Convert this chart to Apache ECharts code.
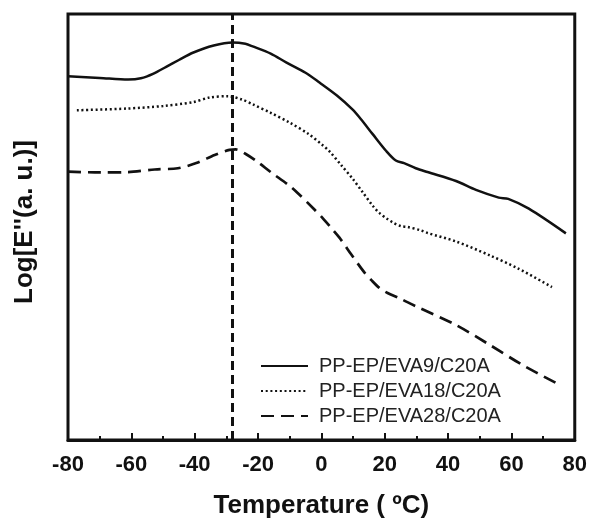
<!DOCTYPE html>
<html>
<head>
<meta charset="utf-8">
<script src="https://cdn.jsdelivr.net/npm/echarts@6/dist/echarts.min.js"></script>
<style>
  html, body { margin: 0; padding: 0; background: #fff; }
  #chart { width: 590px; height: 524px; }
</style>
</head>
<body>
<div id="chart"></div>
<script>
// temperatures (ºC) and log E'' (arbitrary units)
var names = ['PP-EP/EVA9/C20A', 'PP-EP/EVA18/C20A', 'PP-EP/EVA28/C20A'];

var eva9T = [-80, -70, -61, -57, -53, -49, -45, -40.6, -34, -28, -24, -21.7, -16, -11, -5, -0.6, 5, 9.8, 12.5, 16.2, 20.4, 23.5, 26.1, 29.8, 33.5, 42.5, 48.8, 56, 59, 65.5, 77.2];
var eva9V = [85.4, 85.0, 84.6, 84.9, 86.0, 87.6, 89.2, 90.9, 92.6, 93.3, 93.0, 92.4, 90.7, 88.6, 86.2, 83.9, 80.8, 77.6, 75.3, 71.8, 67.9, 65.6, 65.0, 63.8, 62.9, 60.8, 58.7, 56.9, 56.6, 54.3, 48.5];

var eva18T = [-77.2, -61.4, -50, -40.6, -35.3, -29.6, -25, -21.7, -16, -10, -4, 0.4, 2.5, 6.4, 9.9, 13, 16.4, 18.3, 20.6, 22.7, 25.1, 27.2, 31.4, 33.5, 42.5, 53, 62, 72.8];
var eva18V = [77.4, 77.8, 78.4, 79.3, 80.4, 80.7, 79.9, 78.8, 76.8, 74.5, 71.8, 69.2, 67.8, 64.4, 61.3, 58.2, 54.8, 53.3, 52.0, 51.0, 50.2, 50.0, 49.2, 48.6, 46.6, 43.4, 40.3, 35.9];

var eva28T = [-80, -70, -61, -52.6, -45.3, -39.5, -33.7, -29, -27, -24, -20, -16, -10.1, -7.5, -2.2, 0.4, 3.1, 5.7, 9.4, 13.5, 15.7, 18.3, 20.9, 24.6, 29.8, 42.5, 53, 63.3, 74.3];
var eva28V = [63.0, 62.8, 62.9, 63.5, 63.8, 65.0, 66.9, 68.1, 68.2, 67.2, 65.2, 62.9, 59.7, 58.0, 54.1, 52.1, 49.8, 47.5, 43.6, 39.4, 37.6, 35.7, 34.5, 33.3, 31.4, 27.0, 22.4, 17.7, 13.3];

var tgLine = -28;  // vertical dashed marker

function pairs(xs, ys) {
    return xs.map(function (x, i) { return [x, ys[i]]; });
}

var ink = '#111';
var chart = echarts.init(document.getElementById('chart'));

chart.setOption({
    animation: false,
    backgroundColor: '#fff',
    grid: {
        left: 68, right: 14, top: 14, bottom: 81,
        show: true, borderColor: ink, borderWidth: 3
    },
    legend: {
        orient: 'vertical',
        left: 260, top: 356, padding: 0,
        itemWidth: 47, itemHeight: 12, itemGap: 5,
        itemStyle: { color: 'transparent', borderWidth: 0 },
        textStyle: { fontFamily: 'Liberation Sans', fontSize: 20, color: '#222', padding: [0, 0, 0, 6] },
        data: names
    },
    xAxis: {
        type: 'value', min: -80, max: 80, interval: 20,
        name: 'Temperature ( ºC)', nameLocation: 'middle', nameGap: 53,
        nameTextStyle: { fontFamily: 'Liberation Sans', fontWeight: 'bold', fontSize: 26, color: ink },
        axisLine: { lineStyle: { color: ink, width: 3 } },
        axisTick: { inside: true, length: 7, lineStyle: { color: ink, width: 2 } },
        minorTick: { show: true, splitNumber: 2, length: 4, lineStyle: { color: ink, width: 2 } },
        splitLine: { show: false },
        axisLabel: { margin: 14, fontFamily: 'Liberation Sans', fontWeight: 'bold', fontSize: 22, color: ink }
    },
    yAxis: {
        type: 'value', min: 0, max: 100,
        axisLine: { show: false },
        axisTick: { show: false },
        axisLabel: { show: false },
        splitLine: { show: false }
    },
    graphic: [{
        type: 'text',
        x: 25, y: 222,
        rotation: Math.PI / 2,
        style: {
            text: "Log[E''(a. u.)]",
            font: 'bold 26px "Liberation Sans"',
            fill: ink,
            align: 'center',
            verticalAlign: 'middle'
        }
    }],
    series: [{
        name: names[0], type: 'line', smooth: 0.3, symbol: 'none',
        lineStyle: { color: ink, width: 2.5, type: 'solid' },
        itemStyle: { color: ink },
        data: pairs(eva9T, eva9V),
        markLine: {
            silent: true, symbol: 'none', label: { show: false },
            lineStyle: { color: ink, width: 3, type: [9, 5] },
            data: [{ xAxis: tgLine }]
        }
    }, {
        name: names[1], type: 'line', smooth: 0.3, symbol: 'none',
        lineStyle: { color: ink, width: 2.5, type: [2, 2.7] },
        itemStyle: { color: ink },
        data: pairs(eva18T, eva18V)
    }, {
        name: names[2], type: 'line', smooth: 0.3, symbol: 'none',
        lineStyle: { color: ink, width: 2.7, type: [13, 7] },
        itemStyle: { color: ink },
        data: pairs(eva28T, eva28V)
    }]
});
</script>
</body>
</html>
